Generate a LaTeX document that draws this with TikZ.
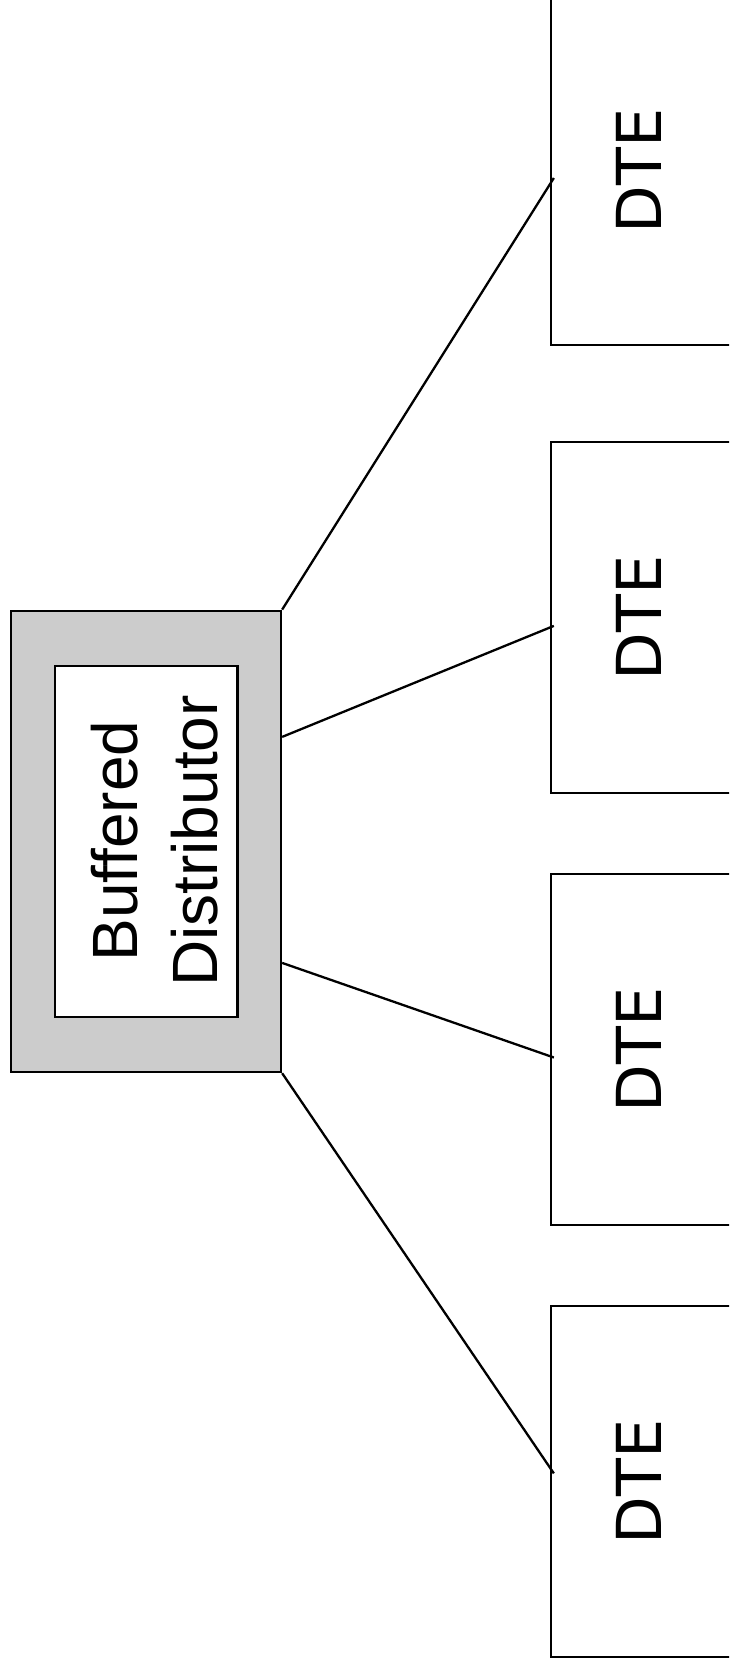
\documentclass[tikz,border=0pt]{standalone}
\usepackage{fontspec}
\setmainfont{Liberation Sans}
\newfontfamily\dvfont{DejaVu Sans}
\usetikzlibrary{calc}
\begin{document}
\begin{tikzpicture}[x=1pt,y=-1pt,
  box/.style={draw=black, line width=2.3pt, inner sep=0pt, rectangle},
  dtebox/.style={box, fill=white, minimum width=200pt, minimum height=351pt},
  dtetext/.style={rotate=90, inner sep=0pt, font=\dvfont\fontsize{62}{74}\selectfont},
  link/.style={draw=black, line width=2.3pt}]
\useasboundingbox (0,0) rectangle (729,1669);
\clip (0,0) rectangle (729,1669);
\fill[white] (0,0) rectangle (729,1669);
% distributor
\node[box, fill={rgb,255:red,204;green,204;blue,204}, minimum width=270pt, minimum height=461.3pt] (outer) at (146,841.4) {};
\node[box, fill=white, minimum width=182.3pt, minimum height=350.7pt] (inner) at (146.2,841.3) {};
\node[rotate=90, inner sep=0pt, align=center, font=\fontsize{64}{80}\selectfont] (label) at (155,841) {Buffered\\Distributor};
% DTE boxes
\node[dtebox] (d1) at (651,169.5) {};
\node[dtebox] (d2) at (651,617.4) {};
\node[dtebox] (d3) at (651,1049.5) {};
\node[dtebox] (d4) at (651,1481.4) {};
\node[dtetext] (t1) at (639,171) {DTE};
\node[dtetext] (t2) at (639,618) {DTE};
\node[dtetext] (t3) at (639,1050) {DTE};
\node[dtetext] (t4) at (639,1482) {DTE};
% connectors
\draw[link] (outer.north east) -- ($(d1.west)+(4,8.5)$);
\draw[link] ($(outer.east)+(0,-104.5)$) -- ($(d2.west)+(4,8.5)$);
\draw[link] ($(outer.east)+(0,121.5)$) -- ($(d3.west)+(4,8)$);
\draw[link] (outer.south east) -- ($(d4.west)+(4,-8)$);
\end{tikzpicture}
\end{document}
